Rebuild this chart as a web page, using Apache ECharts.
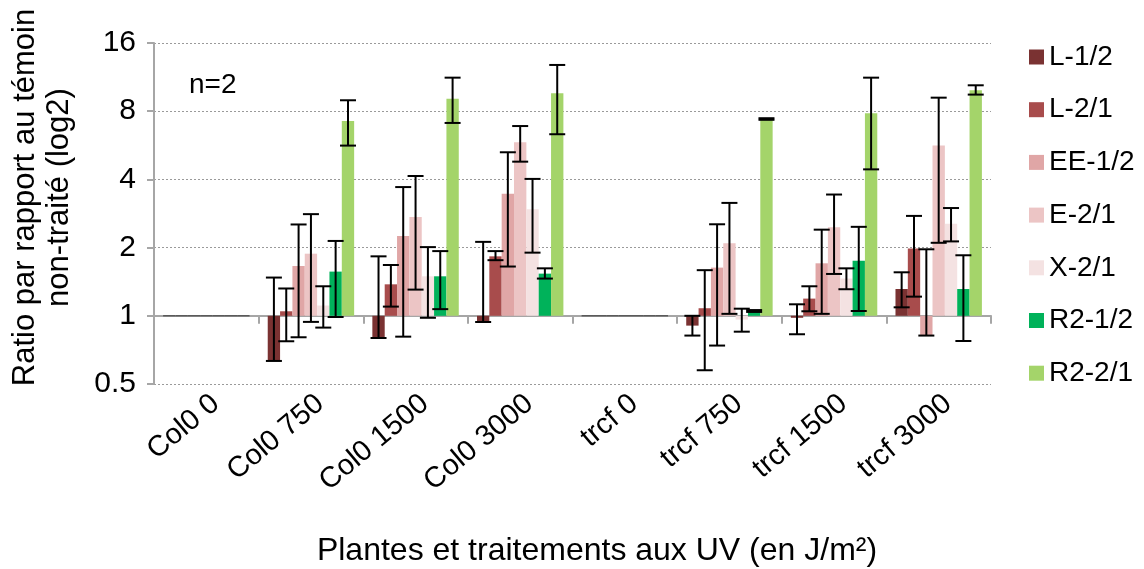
<!DOCTYPE html>
<html>
<head>
<meta charset="utf-8">
<script src="https://cdn.jsdelivr.net/npm/echarts@6/dist/echarts.min.js"></script>
<style>
html,body{margin:0;padding:0;background:#fff;}
#chart{width:1144px;height:569px;}
</style>
</head>
<body>
<div id="chart"></div>
<script>
// ---- Data (ratios relative to untreated control) ----
const categories = ['Col0 0', 'Col0 750', 'Col0 1500', 'Col0 3000', 'trcf 0', 'trcf 750', 'trcf 1500', 'trcf 3000'];
const seriesNames = ['L-1/2', 'L-2/1', 'EE-1/2', 'E-2/1', 'X-2/1', 'R2-1/2', 'R2-2/1'];
const yTicks = [0.5, 1, 2, 4, 8, 16];

const L12    = [1, 0.632, 0.798, 0.939, 1, 0.905, 0.98, 1.313];
const L12lo  = [null, 0.632, 0.798, 0.939, null, 0.818, 0.829, 1.09];
const L12hi  = [null, 1.475, 1.83, 2.12, null, 1.0, 1.124, 1.556];

const L21    = [1, 1.047, 1.377, 1.83, 1, 1.08, 1.191, 1.98];
const L21lo  = [null, 0.772, 1.098, 1.76, null, 0.575, 1.047, 1.215];
const L21hi  = [null, 1.32, 1.676, 1.93, null, 1.59, 1.35, 2.76];

const EE12   = [1, 1.659, 2.25, 3.46, 1, 1.632, 1.705, 0.818];
const EE12lo = [null, 0.804, 0.809, 1.65, null, 0.739, 1.02, 0.818];
const EE12hi = [null, 2.53, 3.70, 5.27, null, 2.535, 2.40, 1.966];

const E21    = [1, 1.88, 2.73, 5.83, 1, 2.09, 2.46, 5.64];
const E21lo  = [null, 0.94, 1.305, 4.79, null, 1.02, 1.53, 2.10];
const E21hi  = [null, 2.81, 4.14, 6.88, null, 3.15, 3.43, 9.18];

const X21    = [1, 1.11, 1.494, 2.95, 1, 0.962, 1.46, 2.55];
const X21lo  = [null, 0.887, 0.98, 1.90, null, 0.851, 1.31, 2.13];
const X21hi  = [null, 1.35, 2.01, 4.02, null, 1.075, 1.62, 2.99];

const R212   = [1, 1.567, 1.494, 1.535, 1, 1.05, 1.75, 1.313];
const R212lo = [null, 0.988, 1.07, 1.46, null, 1.04, 1.05, 0.774];
const R212hi = [null, 2.14, 1.93, 1.62, null, 1.06, 2.47, 1.85];

const R221   = [1, 7.24, 9.09, 9.59, 1, 7.39, 7.83, 9.89];
const R221lo = [null, 5.64, 7.10, 6.33, null, 7.33, 4.43, 9.47];
const R221hi = [null, 8.94, 11.25, 12.8, null, 7.45, 11.25, 10.41];

const colors = ['#7a3232', '#a84c4c', '#e0a6a6', '#ecc5c5', '#f4e2e2', '#00b25a', '#a4d46a'];

// ---- Build options ----
const values = [L12, L21, EE12, E21, X21, R212, R221];
const lows   = [L12lo, L21lo, EE12lo, E21lo, X21lo, R212lo, R221lo];
const highs  = [L12hi, L21hi, EE12hi, E21hi, X21hi, R212hi, R221hi];
const BAR_FRAC = 0.118;
const FONT = 'Liberation Sans, Arial, sans-serif';
const log2 = v => Math.log2(v);

const series = [];
seriesNames.forEach((name, i) => {
  series.push({
    name: name,
    type: 'bar',
    xAxisIndex: 0,
    barWidth: (BAR_FRAC * 100) + '%',
    barGap: '0%',
    itemStyle: { color: colors[i] },
    data: values[i].map(v => v === 1
      ? { value: 0, itemStyle: { borderColor: '#5a5a5a', borderWidth: 1.5 } }
      : log2(v)),
    z: 2
  });
});
seriesNames.forEach((name, i) => {
  const d = [];
  categories.forEach((c, k) => {
    if (lows[i][k] != null) d.push([k, log2(lows[i][k]), log2(highs[i][k])]);
  });
  series.push({
    type: 'custom',
    name: name,
    xAxisIndex: 0,
    z: 5,
    silent: true,
    data: d,
    encode: { x: 0, y: [1, 2] },
    renderItem: function (params, api) {
      const k = api.value(0);
      const bw = api.size([1, 0])[0] * BAR_FRAC;
      const x = api.coord([k, 0])[0] + (i - 3) * bw;
      const yLo = api.coord([k, api.value(1)])[1];
      const yHi = api.coord([k, api.value(2)])[1];
      const hw = 8;
      const st = { stroke: '#000', lineWidth: 2 };
      return {
        type: 'group',
        children: [
          { type: 'line', shape: { x1: x, y1: yLo, x2: x, y2: yHi }, style: st },
          { type: 'line', shape: { x1: x - hw, y1: yLo, x2: x + hw, y2: yLo }, style: st },
          { type: 'line', shape: { x1: x - hw, y1: yHi, x2: x + hw, y2: yHi }, style: st }
        ]
      };
    }
  });
});

const option = {
  animation: false,
  textStyle: { fontFamily: FONT },
  title: [
    { text: 'n=2', left: 184, top: 66, textStyle: { fontFamily: FONT, fontSize: 28, fontWeight: 'normal', color: '#000' } },
    { text: 'Plantes et traitements aux UV (en J/m²)', left: 592, top: 530, textAlign: 'center',
      textStyle: { fontFamily: FONT, fontSize: 32, fontWeight: 'normal', color: '#000' } }
  ],
  legend: {
    orient: 'vertical',
    left: 1024,
    top: 38,
    itemWidth: 15,
    itemHeight: 15,
    itemGap: 24.7,
    icon: 'rect',
    textStyle: { fontFamily: FONT, fontSize: 28, lineHeight: 28, color: '#000' },
    data: seriesNames
  },
  grid: { left: 147, right: 153, top: 43, bottom: 185, containLabel: false },
  xAxis: [
    {
      type: 'category',
      data: categories,
      position: 'bottom',
      axisLine: { show: false, onZero: false },
      axisTick: { show: false },
      axisLabel: {
        rotate: 40, interval: 0, margin: 5, align: 'right', verticalAlign: 'top',
        fontFamily: FONT, fontSize: 29, color: '#000'
      }
    },
    {
      type: 'category',
      data: categories,
      position: 'bottom',
      axisLine: { show: true, onZero: true, lineStyle: { color: '#a6a6a6', width: 2 } },
      axisTick: { show: true, length: 8, lineStyle: { color: '#a6a6a6', width: 2 } },
      axisLabel: { show: false }
    }
  ],
  yAxis: {
    type: 'value',
    min: -1, max: 4, interval: 1,
    name: 'Ratio par rapport au témoin\nnon-traité (log2)',
    nameLocation: 'middle',
    nameGap: 78,
    nameMoveOverlap: false,
    nameTextStyle: { fontFamily: FONT, fontSize: 31, lineHeight: 34, color: '#000', padding: [0, 0, 0, 32] },
    axisLine: { show: true, lineStyle: { color: '#a6a6a6', width: 2 } },
    axisTick: { show: true, length: 7, lineStyle: { color: '#a6a6a6', width: 2 } },
    axisLabel: {
      margin: 18, fontFamily: FONT, fontSize: 30, color: '#000',
      formatter: v => String(Math.pow(2, v))
    },
    splitLine: { show: true, lineStyle: { color: '#9a9a9a', type: [2, 2], width: 1 } }
  },
  series: series
};

const chart = echarts.init(document.getElementById('chart'), null, { renderer: 'canvas' });
chart.setOption(option);
</script>
</body>
</html>
